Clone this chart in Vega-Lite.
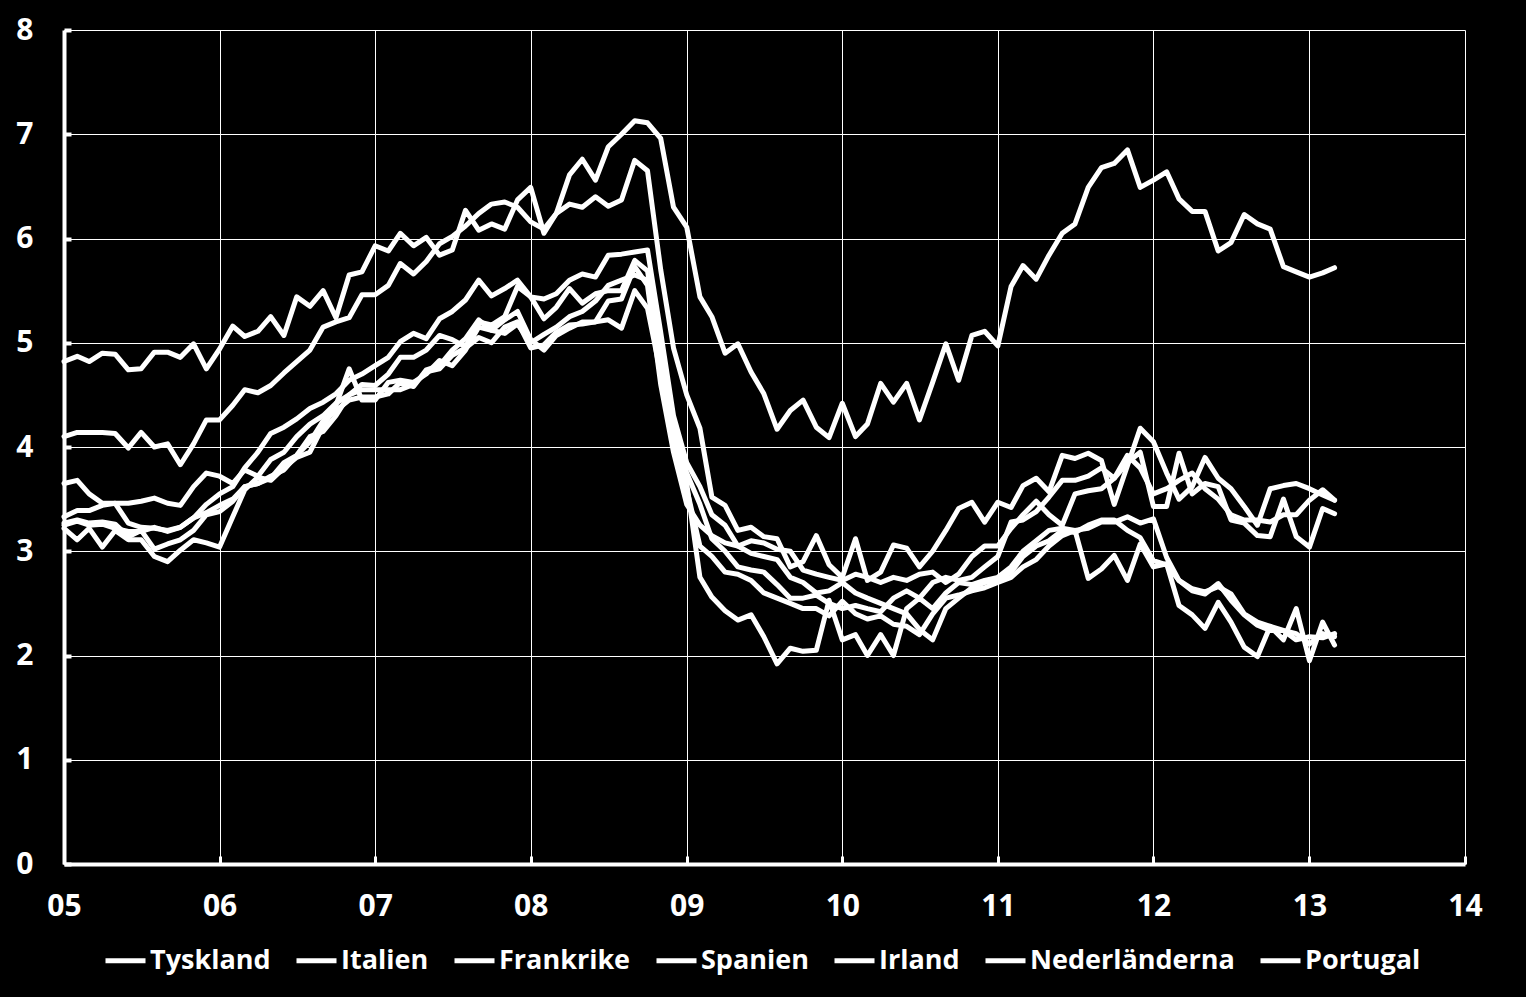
{
"$schema": "https://vega.github.io/schema/vega-lite/v6.json",
"background": "black",
"autosize": {"type": "none"},
"padding": {"left": 64, "top": 30, "right": 61, "bottom": 133},
"width": 1401,
"height": 834,
"config": {"view": {"stroke": null}, "font": "Open Sans"},
"data": {
"format": {"parse": {"d": "utc:'%Y-%m'"}},
"values": [
{"d":"2005-01","s":"Portugal","v":4.82},{"d":"2005-02","s":"Portugal","v":4.87},{"d":"2005-03","s":"Portugal","v":4.82},{"d":"2005-04","s":"Portugal","v":4.90},{"d":"2005-05","s":"Portugal","v":4.89},{"d":"2005-06","s":"Portugal","v":4.74},{"d":"2005-07","s":"Portugal","v":4.75},{"d":"2005-08","s":"Portugal","v":4.91},{"d":"2005-09","s":"Portugal","v":4.91},{"d":"2005-10","s":"Portugal","v":4.86},{"d":"2005-11","s":"Portugal","v":4.99},{"d":"2005-12","s":"Portugal","v":4.75},
{"d":"2006-01","s":"Portugal","v":4.94},{"d":"2006-02","s":"Portugal","v":5.16},{"d":"2006-03","s":"Portugal","v":5.06},{"d":"2006-04","s":"Portugal","v":5.11},{"d":"2006-05","s":"Portugal","v":5.25},{"d":"2006-06","s":"Portugal","v":5.07},{"d":"2006-07","s":"Portugal","v":5.44},{"d":"2006-08","s":"Portugal","v":5.35},{"d":"2006-09","s":"Portugal","v":5.50},{"d":"2006-10","s":"Portugal","v":5.24},{"d":"2006-11","s":"Portugal","v":5.65},{"d":"2006-12","s":"Portugal","v":5.68},
{"d":"2007-01","s":"Portugal","v":5.93},{"d":"2007-02","s":"Portugal","v":5.88},{"d":"2007-03","s":"Portugal","v":6.05},{"d":"2007-04","s":"Portugal","v":5.93},{"d":"2007-05","s":"Portugal","v":6.01},{"d":"2007-06","s":"Portugal","v":5.84},{"d":"2007-07","s":"Portugal","v":5.89},{"d":"2007-08","s":"Portugal","v":6.27},{"d":"2007-09","s":"Portugal","v":6.08},{"d":"2007-10","s":"Portugal","v":6.14},{"d":"2007-11","s":"Portugal","v":6.09},{"d":"2007-12","s":"Portugal","v":6.37},
{"d":"2008-01","s":"Portugal","v":6.49},{"d":"2008-02","s":"Portugal","v":6.05},{"d":"2008-03","s":"Portugal","v":6.24},{"d":"2008-04","s":"Portugal","v":6.61},{"d":"2008-05","s":"Portugal","v":6.76},{"d":"2008-06","s":"Portugal","v":6.56},{"d":"2008-07","s":"Portugal","v":6.88},{"d":"2008-08","s":"Portugal","v":7.00},{"d":"2008-09","s":"Portugal","v":7.13},{"d":"2008-10","s":"Portugal","v":7.11},{"d":"2008-11","s":"Portugal","v":6.96},{"d":"2008-12","s":"Portugal","v":6.30},
{"d":"2009-01","s":"Portugal","v":6.11},{"d":"2009-02","s":"Portugal","v":5.44},{"d":"2009-03","s":"Portugal","v":5.25},{"d":"2009-04","s":"Portugal","v":4.90},{"d":"2009-05","s":"Portugal","v":4.99},{"d":"2009-06","s":"Portugal","v":4.72},{"d":"2009-07","s":"Portugal","v":4.51},{"d":"2009-08","s":"Portugal","v":4.17},{"d":"2009-09","s":"Portugal","v":4.35},{"d":"2009-10","s":"Portugal","v":4.45},{"d":"2009-11","s":"Portugal","v":4.19},{"d":"2009-12","s":"Portugal","v":4.09},
{"d":"2010-01","s":"Portugal","v":4.42},{"d":"2010-02","s":"Portugal","v":4.10},{"d":"2010-03","s":"Portugal","v":4.22},{"d":"2010-04","s":"Portugal","v":4.61},{"d":"2010-05","s":"Portugal","v":4.43},{"d":"2010-06","s":"Portugal","v":4.61},{"d":"2010-07","s":"Portugal","v":4.26},{"d":"2010-08","s":"Portugal","v":4.62},{"d":"2010-09","s":"Portugal","v":4.99},{"d":"2010-10","s":"Portugal","v":4.64},{"d":"2010-11","s":"Portugal","v":5.07},{"d":"2010-12","s":"Portugal","v":5.11},
{"d":"2011-01","s":"Portugal","v":4.97},{"d":"2011-02","s":"Portugal","v":5.54},{"d":"2011-03","s":"Portugal","v":5.74},{"d":"2011-04","s":"Portugal","v":5.61},{"d":"2011-05","s":"Portugal","v":5.84},{"d":"2011-06","s":"Portugal","v":6.05},{"d":"2011-07","s":"Portugal","v":6.14},{"d":"2011-08","s":"Portugal","v":6.49},{"d":"2011-09","s":"Portugal","v":6.68},{"d":"2011-10","s":"Portugal","v":6.72},{"d":"2011-11","s":"Portugal","v":6.85},{"d":"2011-12","s":"Portugal","v":6.49},
{"d":"2012-01","s":"Portugal","v":6.56},{"d":"2012-02","s":"Portugal","v":6.64},{"d":"2012-03","s":"Portugal","v":6.38},{"d":"2012-04","s":"Portugal","v":6.26},{"d":"2012-05","s":"Portugal","v":6.26},{"d":"2012-06","s":"Portugal","v":5.88},{"d":"2012-07","s":"Portugal","v":5.96},{"d":"2012-08","s":"Portugal","v":6.23},{"d":"2012-09","s":"Portugal","v":6.14},{"d":"2012-10","s":"Portugal","v":6.09},{"d":"2012-11","s":"Portugal","v":5.73},{"d":"2012-12","s":"Portugal","v":5.68},
{"d":"2013-01","s":"Portugal","v":5.63},{"d":"2013-02","s":"Portugal","v":5.67},{"d":"2013-03","s":"Portugal","v":5.72},

{"d":"2005-01","s":"Spanien","v":4.10},{"d":"2005-02","s":"Spanien","v":4.14},{"d":"2005-03","s":"Spanien","v":4.14},{"d":"2005-04","s":"Spanien","v":4.14},{"d":"2005-05","s":"Spanien","v":4.13},{"d":"2005-06","s":"Spanien","v":3.99},{"d":"2005-07","s":"Spanien","v":4.14},{"d":"2005-08","s":"Spanien","v":4.00},{"d":"2005-09","s":"Spanien","v":4.03},{"d":"2005-10","s":"Spanien","v":3.83},{"d":"2005-11","s":"Spanien","v":4.03},{"d":"2005-12","s":"Spanien","v":4.26},
{"d":"2006-01","s":"Spanien","v":4.26},{"d":"2006-02","s":"Spanien","v":4.40},{"d":"2006-03","s":"Spanien","v":4.55},{"d":"2006-04","s":"Spanien","v":4.52},{"d":"2006-05","s":"Spanien","v":4.59},{"d":"2006-06","s":"Spanien","v":4.71},{"d":"2006-07","s":"Spanien","v":4.82},{"d":"2006-08","s":"Spanien","v":4.93},{"d":"2006-09","s":"Spanien","v":5.15},{"d":"2006-10","s":"Spanien","v":5.20},{"d":"2006-11","s":"Spanien","v":5.24},{"d":"2006-12","s":"Spanien","v":5.46},
{"d":"2007-01","s":"Spanien","v":5.46},{"d":"2007-02","s":"Spanien","v":5.55},{"d":"2007-03","s":"Spanien","v":5.76},{"d":"2007-04","s":"Spanien","v":5.66},{"d":"2007-05","s":"Spanien","v":5.78},{"d":"2007-06","s":"Spanien","v":5.95},{"d":"2007-07","s":"Spanien","v":6.02},{"d":"2007-08","s":"Spanien","v":6.12},{"d":"2007-09","s":"Spanien","v":6.24},{"d":"2007-10","s":"Spanien","v":6.33},{"d":"2007-11","s":"Spanien","v":6.35},{"d":"2007-12","s":"Spanien","v":6.30},
{"d":"2008-01","s":"Spanien","v":6.16},{"d":"2008-02","s":"Spanien","v":6.09},{"d":"2008-03","s":"Spanien","v":6.24},{"d":"2008-04","s":"Spanien","v":6.33},{"d":"2008-05","s":"Spanien","v":6.30},{"d":"2008-06","s":"Spanien","v":6.40},{"d":"2008-07","s":"Spanien","v":6.31},{"d":"2008-08","s":"Spanien","v":6.37},{"d":"2008-09","s":"Spanien","v":6.75},{"d":"2008-10","s":"Spanien","v":6.65},{"d":"2008-11","s":"Spanien","v":5.70},{"d":"2008-12","s":"Spanien","v":4.95},
{"d":"2009-01","s":"Spanien","v":4.50},{"d":"2009-02","s":"Spanien","v":4.18},{"d":"2009-03","s":"Spanien","v":3.52},{"d":"2009-04","s":"Spanien","v":3.44},{"d":"2009-05","s":"Spanien","v":3.20},{"d":"2009-06","s":"Spanien","v":3.23},{"d":"2009-07","s":"Spanien","v":3.14},{"d":"2009-08","s":"Spanien","v":3.12},{"d":"2009-09","s":"Spanien","v":2.85},{"d":"2009-10","s":"Spanien","v":2.90},{"d":"2009-11","s":"Spanien","v":3.15},{"d":"2009-12","s":"Spanien","v":2.87},
{"d":"2010-01","s":"Spanien","v":2.75},{"d":"2010-02","s":"Spanien","v":3.12},{"d":"2010-03","s":"Spanien","v":2.72},{"d":"2010-04","s":"Spanien","v":2.80},{"d":"2010-05","s":"Spanien","v":3.06},{"d":"2010-06","s":"Spanien","v":3.03},{"d":"2010-07","s":"Spanien","v":2.85},{"d":"2010-08","s":"Spanien","v":3.00},{"d":"2010-09","s":"Spanien","v":3.20},{"d":"2010-10","s":"Spanien","v":3.41},{"d":"2010-11","s":"Spanien","v":3.47},{"d":"2010-12","s":"Spanien","v":3.28},
{"d":"2011-01","s":"Spanien","v":3.47},{"d":"2011-02","s":"Spanien","v":3.42},{"d":"2011-03","s":"Spanien","v":3.63},{"d":"2011-04","s":"Spanien","v":3.70},{"d":"2011-05","s":"Spanien","v":3.57},{"d":"2011-06","s":"Spanien","v":3.92},{"d":"2011-07","s":"Spanien","v":3.89},{"d":"2011-08","s":"Spanien","v":3.94},{"d":"2011-09","s":"Spanien","v":3.87},{"d":"2011-10","s":"Spanien","v":3.45},{"d":"2011-11","s":"Spanien","v":3.82},{"d":"2011-12","s":"Spanien","v":4.18},
{"d":"2012-01","s":"Spanien","v":4.05},{"d":"2012-02","s":"Spanien","v":3.75},{"d":"2012-03","s":"Spanien","v":3.50},{"d":"2012-04","s":"Spanien","v":3.62},{"d":"2012-05","s":"Spanien","v":3.90},{"d":"2012-06","s":"Spanien","v":3.70},{"d":"2012-07","s":"Spanien","v":3.60},{"d":"2012-08","s":"Spanien","v":3.43},{"d":"2012-09","s":"Spanien","v":3.25},{"d":"2012-10","s":"Spanien","v":3.60},{"d":"2012-11","s":"Spanien","v":3.63},{"d":"2012-12","s":"Spanien","v":3.65},
{"d":"2013-01","s":"Spanien","v":3.60},{"d":"2013-02","s":"Spanien","v":3.54},{"d":"2013-03","s":"Spanien","v":3.49},

{"d":"2005-01","s":"Italien","v":3.65},{"d":"2005-02","s":"Italien","v":3.68},{"d":"2005-03","s":"Italien","v":3.55},{"d":"2005-04","s":"Italien","v":3.46},{"d":"2005-05","s":"Italien","v":3.46},{"d":"2005-06","s":"Italien","v":3.27},{"d":"2005-07","s":"Italien","v":3.23},{"d":"2005-08","s":"Italien","v":3.22},{"d":"2005-09","s":"Italien","v":3.20},{"d":"2005-10","s":"Italien","v":3.23},{"d":"2005-11","s":"Italien","v":3.32},{"d":"2005-12","s":"Italien","v":3.45},
{"d":"2006-01","s":"Italien","v":3.55},{"d":"2006-02","s":"Italien","v":3.62},{"d":"2006-03","s":"Italien","v":3.80},{"d":"2006-04","s":"Italien","v":3.95},{"d":"2006-05","s":"Italien","v":4.13},{"d":"2006-06","s":"Italien","v":4.19},{"d":"2006-07","s":"Italien","v":4.27},{"d":"2006-08","s":"Italien","v":4.37},{"d":"2006-09","s":"Italien","v":4.43},{"d":"2006-10","s":"Italien","v":4.51},{"d":"2006-11","s":"Italien","v":4.64},{"d":"2006-12","s":"Italien","v":4.70},
{"d":"2007-01","s":"Italien","v":4.78},{"d":"2007-02","s":"Italien","v":4.86},{"d":"2007-03","s":"Italien","v":5.01},{"d":"2007-04","s":"Italien","v":5.09},{"d":"2007-05","s":"Italien","v":5.04},{"d":"2007-06","s":"Italien","v":5.23},{"d":"2007-07","s":"Italien","v":5.30},{"d":"2007-08","s":"Italien","v":5.41},{"d":"2007-09","s":"Italien","v":5.60},{"d":"2007-10","s":"Italien","v":5.45},{"d":"2007-11","s":"Italien","v":5.52},{"d":"2007-12","s":"Italien","v":5.60},
{"d":"2008-01","s":"Italien","v":5.44},{"d":"2008-02","s":"Italien","v":5.42},{"d":"2008-03","s":"Italien","v":5.47},{"d":"2008-04","s":"Italien","v":5.60},{"d":"2008-05","s":"Italien","v":5.66},{"d":"2008-06","s":"Italien","v":5.63},{"d":"2008-07","s":"Italien","v":5.84},{"d":"2008-08","s":"Italien","v":5.85},{"d":"2008-09","s":"Italien","v":5.87},{"d":"2008-10","s":"Italien","v":5.89},{"d":"2008-11","s":"Italien","v":5.10},{"d":"2008-12","s":"Italien","v":4.30},
{"d":"2009-01","s":"Italien","v":3.85},{"d":"2009-02","s":"Italien","v":3.62},{"d":"2009-03","s":"Italien","v":3.35},{"d":"2009-04","s":"Italien","v":3.25},{"d":"2009-05","s":"Italien","v":3.05},{"d":"2009-06","s":"Italien","v":3.10},{"d":"2009-07","s":"Italien","v":3.08},{"d":"2009-08","s":"Italien","v":3.02},{"d":"2009-09","s":"Italien","v":3.00},{"d":"2009-10","s":"Italien","v":2.82},{"d":"2009-11","s":"Italien","v":2.78},{"d":"2009-12","s":"Italien","v":2.75},
{"d":"2010-01","s":"Italien","v":2.72},{"d":"2010-02","s":"Italien","v":2.78},{"d":"2010-03","s":"Italien","v":2.75},{"d":"2010-04","s":"Italien","v":2.70},{"d":"2010-05","s":"Italien","v":2.75},{"d":"2010-06","s":"Italien","v":2.72},{"d":"2010-07","s":"Italien","v":2.78},{"d":"2010-08","s":"Italien","v":2.80},{"d":"2010-09","s":"Italien","v":2.70},{"d":"2010-10","s":"Italien","v":2.78},{"d":"2010-11","s":"Italien","v":2.95},{"d":"2010-12","s":"Italien","v":3.05},
{"d":"2011-01","s":"Italien","v":3.05},{"d":"2011-02","s":"Italien","v":3.22},{"d":"2011-03","s":"Italien","v":3.35},{"d":"2011-04","s":"Italien","v":3.48},{"d":"2011-05","s":"Italien","v":3.35},{"d":"2011-06","s":"Italien","v":3.25},{"d":"2011-07","s":"Italien","v":3.55},{"d":"2011-08","s":"Italien","v":3.58},{"d":"2011-09","s":"Italien","v":3.60},{"d":"2011-10","s":"Italien","v":3.70},{"d":"2011-11","s":"Italien","v":3.85},{"d":"2011-12","s":"Italien","v":3.95},
{"d":"2012-01","s":"Italien","v":3.43},{"d":"2012-02","s":"Italien","v":3.43},{"d":"2012-03","s":"Italien","v":3.94},{"d":"2012-04","s":"Italien","v":3.55},{"d":"2012-05","s":"Italien","v":3.65},{"d":"2012-06","s":"Italien","v":3.62},{"d":"2012-07","s":"Italien","v":3.30},{"d":"2012-08","s":"Italien","v":3.27},{"d":"2012-09","s":"Italien","v":3.15},{"d":"2012-10","s":"Italien","v":3.14},{"d":"2012-11","s":"Italien","v":3.50},{"d":"2012-12","s":"Italien","v":3.14},
{"d":"2013-01","s":"Italien","v":3.04},{"d":"2013-02","s":"Italien","v":3.41},{"d":"2013-03","s":"Italien","v":3.36},

{"d":"2005-01","s":"Irland","v":3.33},{"d":"2005-02","s":"Irland","v":3.39},{"d":"2005-03","s":"Irland","v":3.39},{"d":"2005-04","s":"Irland","v":3.44},{"d":"2005-05","s":"Irland","v":3.46},{"d":"2005-06","s":"Irland","v":3.46},{"d":"2005-07","s":"Irland","v":3.48},{"d":"2005-08","s":"Irland","v":3.51},{"d":"2005-09","s":"Irland","v":3.46},{"d":"2005-10","s":"Irland","v":3.44},{"d":"2005-11","s":"Irland","v":3.62},{"d":"2005-12","s":"Irland","v":3.75},
{"d":"2006-01","s":"Irland","v":3.72},{"d":"2006-02","s":"Irland","v":3.65},{"d":"2006-03","s":"Irland","v":3.78},{"d":"2006-04","s":"Irland","v":3.72},{"d":"2006-05","s":"Irland","v":3.88},{"d":"2006-06","s":"Irland","v":3.95},{"d":"2006-07","s":"Irland","v":4.10},{"d":"2006-08","s":"Irland","v":4.22},{"d":"2006-09","s":"Irland","v":4.30},{"d":"2006-10","s":"Irland","v":4.42},{"d":"2006-11","s":"Irland","v":4.50},{"d":"2006-12","s":"Irland","v":4.60},
{"d":"2007-01","s":"Irland","v":4.59},{"d":"2007-02","s":"Irland","v":4.70},{"d":"2007-03","s":"Irland","v":4.86},{"d":"2007-04","s":"Irland","v":4.86},{"d":"2007-05","s":"Irland","v":4.93},{"d":"2007-06","s":"Irland","v":5.07},{"d":"2007-07","s":"Irland","v":5.03},{"d":"2007-08","s":"Irland","v":4.96},{"d":"2007-09","s":"Irland","v":5.20},{"d":"2007-10","s":"Irland","v":5.17},{"d":"2007-11","s":"Irland","v":5.25},{"d":"2007-12","s":"Irland","v":5.54},
{"d":"2008-01","s":"Irland","v":5.44},{"d":"2008-02","s":"Irland","v":5.23},{"d":"2008-03","s":"Irland","v":5.34},{"d":"2008-04","s":"Irland","v":5.52},{"d":"2008-05","s":"Irland","v":5.38},{"d":"2008-06","s":"Irland","v":5.47},{"d":"2008-07","s":"Irland","v":5.50},{"d":"2008-08","s":"Irland","v":5.50},{"d":"2008-09","s":"Irland","v":5.79},{"d":"2008-10","s":"Irland","v":5.69},{"d":"2008-11","s":"Irland","v":4.90},{"d":"2008-12","s":"Irland","v":4.15},
{"d":"2009-01","s":"Irland","v":3.75},{"d":"2009-02","s":"Irland","v":3.45},{"d":"2009-03","s":"Irland","v":3.12},{"d":"2009-04","s":"Irland","v":3.00},{"d":"2009-05","s":"Irland","v":2.85},{"d":"2009-06","s":"Irland","v":2.82},{"d":"2009-07","s":"Irland","v":2.80},{"d":"2009-08","s":"Irland","v":2.68},{"d":"2009-09","s":"Irland","v":2.55},{"d":"2009-10","s":"Irland","v":2.55},{"d":"2009-11","s":"Irland","v":2.58},{"d":"2009-12","s":"Irland","v":2.50},
{"d":"2010-01","s":"Irland","v":2.45},{"d":"2010-02","s":"Irland","v":2.48},{"d":"2010-03","s":"Irland","v":2.45},{"d":"2010-04","s":"Irland","v":2.42},{"d":"2010-05","s":"Irland","v":2.55},{"d":"2010-06","s":"Irland","v":2.62},{"d":"2010-07","s":"Irland","v":2.55},{"d":"2010-08","s":"Irland","v":2.70},{"d":"2010-09","s":"Irland","v":2.75},{"d":"2010-10","s":"Irland","v":2.72},{"d":"2010-11","s":"Irland","v":2.75},{"d":"2010-12","s":"Irland","v":2.85},
{"d":"2011-01","s":"Irland","v":2.95},{"d":"2011-02","s":"Irland","v":3.28},{"d":"2011-03","s":"Irland","v":3.30},{"d":"2011-04","s":"Irland","v":3.38},{"d":"2011-05","s":"Irland","v":3.52},{"d":"2011-06","s":"Irland","v":3.68},{"d":"2011-07","s":"Irland","v":3.68},{"d":"2011-08","s":"Irland","v":3.72},{"d":"2011-09","s":"Irland","v":3.80},{"d":"2011-10","s":"Irland","v":3.70},{"d":"2011-11","s":"Irland","v":3.92},{"d":"2011-12","s":"Irland","v":3.80},
{"d":"2012-01","s":"Irland","v":3.55},{"d":"2012-02","s":"Irland","v":3.60},{"d":"2012-03","s":"Irland","v":3.68},{"d":"2012-04","s":"Irland","v":3.75},{"d":"2012-05","s":"Irland","v":3.60},{"d":"2012-06","s":"Irland","v":3.50},{"d":"2012-07","s":"Irland","v":3.35},{"d":"2012-08","s":"Irland","v":3.30},{"d":"2012-09","s":"Irland","v":3.30},{"d":"2012-10","s":"Irland","v":3.28},{"d":"2012-11","s":"Irland","v":3.35},{"d":"2012-12","s":"Irland","v":3.35},
{"d":"2013-01","s":"Irland","v":3.49},{"d":"2013-02","s":"Irland","v":3.59},{"d":"2013-03","s":"Irland","v":3.49},

{"d":"2005-01","s":"Tyskland","v":3.22},{"d":"2005-02","s":"Tyskland","v":3.11},{"d":"2005-03","s":"Tyskland","v":3.22},{"d":"2005-04","s":"Tyskland","v":3.04},{"d":"2005-05","s":"Tyskland","v":3.20},{"d":"2005-06","s":"Tyskland","v":3.11},{"d":"2005-07","s":"Tyskland","v":3.11},{"d":"2005-08","s":"Tyskland","v":2.95},{"d":"2005-09","s":"Tyskland","v":2.90},{"d":"2005-10","s":"Tyskland","v":3.01},{"d":"2005-11","s":"Tyskland","v":3.11},{"d":"2005-12","s":"Tyskland","v":3.08},
{"d":"2006-01","s":"Tyskland","v":3.04},{"d":"2006-02","s":"Tyskland","v":3.33},{"d":"2006-03","s":"Tyskland","v":3.59},{"d":"2006-04","s":"Tyskland","v":3.71},{"d":"2006-05","s":"Tyskland","v":3.68},{"d":"2006-06","s":"Tyskland","v":3.80},{"d":"2006-07","s":"Tyskland","v":3.90},{"d":"2006-08","s":"Tyskland","v":3.95},{"d":"2006-09","s":"Tyskland","v":4.20},{"d":"2006-10","s":"Tyskland","v":4.40},{"d":"2006-11","s":"Tyskland","v":4.75},{"d":"2006-12","s":"Tyskland","v":4.45},
{"d":"2007-01","s":"Tyskland","v":4.45},{"d":"2007-02","s":"Tyskland","v":4.62},{"d":"2007-03","s":"Tyskland","v":4.64},{"d":"2007-04","s":"Tyskland","v":4.62},{"d":"2007-05","s":"Tyskland","v":4.70},{"d":"2007-06","s":"Tyskland","v":4.83},{"d":"2007-07","s":"Tyskland","v":4.78},{"d":"2007-08","s":"Tyskland","v":4.93},{"d":"2007-09","s":"Tyskland","v":5.15},{"d":"2007-10","s":"Tyskland","v":5.12},{"d":"2007-11","s":"Tyskland","v":5.22},{"d":"2007-12","s":"Tyskland","v":5.30},
{"d":"2008-01","s":"Tyskland","v":5.03},{"d":"2008-02","s":"Tyskland","v":4.93},{"d":"2008-03","s":"Tyskland","v":5.07},{"d":"2008-04","s":"Tyskland","v":5.14},{"d":"2008-05","s":"Tyskland","v":5.20},{"d":"2008-06","s":"Tyskland","v":5.20},{"d":"2008-07","s":"Tyskland","v":5.22},{"d":"2008-08","s":"Tyskland","v":5.14},{"d":"2008-09","s":"Tyskland","v":5.50},{"d":"2008-10","s":"Tyskland","v":5.33},{"d":"2008-11","s":"Tyskland","v":4.70},{"d":"2008-12","s":"Tyskland","v":4.10},
{"d":"2009-01","s":"Tyskland","v":3.65},{"d":"2009-02","s":"Tyskland","v":2.75},{"d":"2009-03","s":"Tyskland","v":2.56},{"d":"2009-04","s":"Tyskland","v":2.43},{"d":"2009-05","s":"Tyskland","v":2.34},{"d":"2009-06","s":"Tyskland","v":2.39},{"d":"2009-07","s":"Tyskland","v":2.18},{"d":"2009-08","s":"Tyskland","v":1.92},{"d":"2009-09","s":"Tyskland","v":2.07},{"d":"2009-10","s":"Tyskland","v":2.04},{"d":"2009-11","s":"Tyskland","v":2.05},{"d":"2009-12","s":"Tyskland","v":2.53},
{"d":"2010-01","s":"Tyskland","v":2.15},{"d":"2010-02","s":"Tyskland","v":2.20},{"d":"2010-03","s":"Tyskland","v":2.00},{"d":"2010-04","s":"Tyskland","v":2.20},{"d":"2010-05","s":"Tyskland","v":2.00},{"d":"2010-06","s":"Tyskland","v":2.45},{"d":"2010-07","s":"Tyskland","v":2.55},{"d":"2010-08","s":"Tyskland","v":2.45},{"d":"2010-09","s":"Tyskland","v":2.60},{"d":"2010-10","s":"Tyskland","v":2.70},{"d":"2010-11","s":"Tyskland","v":2.68},{"d":"2010-12","s":"Tyskland","v":2.72},
{"d":"2011-01","s":"Tyskland","v":2.75},{"d":"2011-02","s":"Tyskland","v":2.85},{"d":"2011-03","s":"Tyskland","v":3.00},{"d":"2011-04","s":"Tyskland","v":3.10},{"d":"2011-05","s":"Tyskland","v":3.20},{"d":"2011-06","s":"Tyskland","v":3.22},{"d":"2011-07","s":"Tyskland","v":3.20},{"d":"2011-08","s":"Tyskland","v":2.74},{"d":"2011-09","s":"Tyskland","v":2.83},{"d":"2011-10","s":"Tyskland","v":2.96},{"d":"2011-11","s":"Tyskland","v":2.72},{"d":"2011-12","s":"Tyskland","v":3.07},
{"d":"2012-01","s":"Tyskland","v":2.85},{"d":"2012-02","s":"Tyskland","v":2.88},{"d":"2012-03","s":"Tyskland","v":2.48},{"d":"2012-04","s":"Tyskland","v":2.39},{"d":"2012-05","s":"Tyskland","v":2.26},{"d":"2012-06","s":"Tyskland","v":2.51},{"d":"2012-07","s":"Tyskland","v":2.32},{"d":"2012-08","s":"Tyskland","v":2.08},{"d":"2012-09","s":"Tyskland","v":1.99},{"d":"2012-10","s":"Tyskland","v":2.28},{"d":"2012-11","s":"Tyskland","v":2.15},{"d":"2012-12","s":"Tyskland","v":2.45},
{"d":"2013-01","s":"Tyskland","v":1.95},{"d":"2013-02","s":"Tyskland","v":2.32},{"d":"2013-03","s":"Tyskland","v":2.10},

{"d":"2005-01","s":"Frankrike","v":3.27},{"d":"2005-02","s":"Frankrike","v":3.30},{"d":"2005-03","s":"Frankrike","v":3.27},{"d":"2005-04","s":"Frankrike","v":3.28},{"d":"2005-05","s":"Frankrike","v":3.26},{"d":"2005-06","s":"Frankrike","v":3.14},{"d":"2005-07","s":"Frankrike","v":3.20},{"d":"2005-08","s":"Frankrike","v":3.02},{"d":"2005-09","s":"Frankrike","v":3.07},{"d":"2005-10","s":"Frankrike","v":3.11},{"d":"2005-11","s":"Frankrike","v":3.20},{"d":"2005-12","s":"Frankrike","v":3.35},
{"d":"2006-01","s":"Frankrike","v":3.38},{"d":"2006-02","s":"Frankrike","v":3.48},{"d":"2006-03","s":"Frankrike","v":3.62},{"d":"2006-04","s":"Frankrike","v":3.65},{"d":"2006-05","s":"Frankrike","v":3.72},{"d":"2006-06","s":"Frankrike","v":3.78},{"d":"2006-07","s":"Frankrike","v":3.92},{"d":"2006-08","s":"Frankrike","v":4.05},{"d":"2006-09","s":"Frankrike","v":4.25},{"d":"2006-10","s":"Frankrike","v":4.35},{"d":"2006-11","s":"Frankrike","v":4.45},{"d":"2006-12","s":"Frankrike","v":4.48},
{"d":"2007-01","s":"Frankrike","v":4.48},{"d":"2007-02","s":"Frankrike","v":4.51},{"d":"2007-03","s":"Frankrike","v":4.62},{"d":"2007-04","s":"Frankrike","v":4.58},{"d":"2007-05","s":"Frankrike","v":4.74},{"d":"2007-06","s":"Frankrike","v":4.78},{"d":"2007-07","s":"Frankrike","v":4.93},{"d":"2007-08","s":"Frankrike","v":5.04},{"d":"2007-09","s":"Frankrike","v":5.22},{"d":"2007-10","s":"Frankrike","v":5.12},{"d":"2007-11","s":"Frankrike","v":5.09},{"d":"2007-12","s":"Frankrike","v":5.18},
{"d":"2008-01","s":"Frankrike","v":5.00},{"d":"2008-02","s":"Frankrike","v":5.08},{"d":"2008-03","s":"Frankrike","v":5.15},{"d":"2008-04","s":"Frankrike","v":5.25},{"d":"2008-05","s":"Frankrike","v":5.30},{"d":"2008-06","s":"Frankrike","v":5.40},{"d":"2008-07","s":"Frankrike","v":5.55},{"d":"2008-08","s":"Frankrike","v":5.60},{"d":"2008-09","s":"Frankrike","v":5.65},{"d":"2008-10","s":"Frankrike","v":5.60},{"d":"2008-11","s":"Frankrike","v":4.85},{"d":"2008-12","s":"Frankrike","v":4.00},
{"d":"2009-01","s":"Frankrike","v":3.60},{"d":"2009-02","s":"Frankrike","v":3.05},{"d":"2009-03","s":"Frankrike","v":2.95},{"d":"2009-04","s":"Frankrike","v":2.80},{"d":"2009-05","s":"Frankrike","v":2.78},{"d":"2009-06","s":"Frankrike","v":2.72},{"d":"2009-07","s":"Frankrike","v":2.60},{"d":"2009-08","s":"Frankrike","v":2.55},{"d":"2009-09","s":"Frankrike","v":2.50},{"d":"2009-10","s":"Frankrike","v":2.45},{"d":"2009-11","s":"Frankrike","v":2.45},{"d":"2009-12","s":"Frankrike","v":2.38},
{"d":"2010-01","s":"Frankrike","v":2.52},{"d":"2010-02","s":"Frankrike","v":2.40},{"d":"2010-03","s":"Frankrike","v":2.35},{"d":"2010-04","s":"Frankrike","v":2.38},{"d":"2010-05","s":"Frankrike","v":2.30},{"d":"2010-06","s":"Frankrike","v":2.28},{"d":"2010-07","s":"Frankrike","v":2.20},{"d":"2010-08","s":"Frankrike","v":2.40},{"d":"2010-09","s":"Frankrike","v":2.55},{"d":"2010-10","s":"Frankrike","v":2.58},{"d":"2010-11","s":"Frankrike","v":2.62},{"d":"2010-12","s":"Frankrike","v":2.65},
{"d":"2011-01","s":"Frankrike","v":2.70},{"d":"2011-02","s":"Frankrike","v":2.75},{"d":"2011-03","s":"Frankrike","v":2.85},{"d":"2011-04","s":"Frankrike","v":2.92},{"d":"2011-05","s":"Frankrike","v":3.05},{"d":"2011-06","s":"Frankrike","v":3.15},{"d":"2011-07","s":"Frankrike","v":3.20},{"d":"2011-08","s":"Frankrike","v":3.22},{"d":"2011-09","s":"Frankrike","v":3.28},{"d":"2011-10","s":"Frankrike","v":3.28},{"d":"2011-11","s":"Frankrike","v":3.33},{"d":"2011-12","s":"Frankrike","v":3.27},
{"d":"2012-01","s":"Frankrike","v":3.31},{"d":"2012-02","s":"Frankrike","v":2.94},{"d":"2012-03","s":"Frankrike","v":2.72},{"d":"2012-04","s":"Frankrike","v":2.62},{"d":"2012-05","s":"Frankrike","v":2.59},{"d":"2012-06","s":"Frankrike","v":2.69},{"d":"2012-07","s":"Frankrike","v":2.53},{"d":"2012-08","s":"Frankrike","v":2.39},{"d":"2012-09","s":"Frankrike","v":2.29},{"d":"2012-10","s":"Frankrike","v":2.24},{"d":"2012-11","s":"Frankrike","v":2.24},{"d":"2012-12","s":"Frankrike","v":2.15},
{"d":"2013-01","s":"Frankrike","v":2.18},{"d":"2013-02","s":"Frankrike","v":2.17},{"d":"2013-03","s":"Frankrike","v":2.21},

{"d":"2005-01","s":"Nederländerna","v":3.25},{"d":"2005-02","s":"Nederländerna","v":3.29},{"d":"2005-03","s":"Nederländerna","v":3.25},{"d":"2005-04","s":"Nederländerna","v":3.26},{"d":"2005-05","s":"Nederländerna","v":3.22},{"d":"2005-06","s":"Nederländerna","v":3.19},{"d":"2005-07","s":"Nederländerna","v":3.19},{"d":"2005-08","s":"Nederländerna","v":3.23},{"d":"2005-09","s":"Nederländerna","v":3.19},{"d":"2005-10","s":"Nederländerna","v":3.23},{"d":"2005-11","s":"Nederländerna","v":3.32},{"d":"2005-12","s":"Nederländerna","v":3.37},
{"d":"2006-01","s":"Nederländerna","v":3.44},{"d":"2006-02","s":"Nederländerna","v":3.50},{"d":"2006-03","s":"Nederländerna","v":3.62},{"d":"2006-04","s":"Nederländerna","v":3.65},{"d":"2006-05","s":"Nederländerna","v":3.70},{"d":"2006-06","s":"Nederländerna","v":3.85},{"d":"2006-07","s":"Nederländerna","v":3.92},{"d":"2006-08","s":"Nederländerna","v":4.10},{"d":"2006-09","s":"Nederländerna","v":4.15},{"d":"2006-10","s":"Nederländerna","v":4.30},{"d":"2006-11","s":"Nederländerna","v":4.50},{"d":"2006-12","s":"Nederländerna","v":4.55},
{"d":"2007-01","s":"Nederländerna","v":4.55},{"d":"2007-02","s":"Nederländerna","v":4.55},{"d":"2007-03","s":"Nederländerna","v":4.55},{"d":"2007-04","s":"Nederländerna","v":4.60},{"d":"2007-05","s":"Nederländerna","v":4.72},{"d":"2007-06","s":"Nederländerna","v":4.75},{"d":"2007-07","s":"Nederländerna","v":4.88},{"d":"2007-08","s":"Nederländerna","v":4.95},{"d":"2007-09","s":"Nederländerna","v":5.05},{"d":"2007-10","s":"Nederländerna","v":5.00},{"d":"2007-11","s":"Nederländerna","v":5.15},{"d":"2007-12","s":"Nederländerna","v":5.20},
{"d":"2008-01","s":"Nederländerna","v":4.95},{"d":"2008-02","s":"Nederländerna","v":4.98},{"d":"2008-03","s":"Nederländerna","v":5.10},{"d":"2008-04","s":"Nederländerna","v":5.17},{"d":"2008-05","s":"Nederländerna","v":5.18},{"d":"2008-06","s":"Nederländerna","v":5.20},{"d":"2008-07","s":"Nederländerna","v":5.40},{"d":"2008-08","s":"Nederländerna","v":5.42},{"d":"2008-09","s":"Nederländerna","v":5.73},{"d":"2008-10","s":"Nederländerna","v":5.55},{"d":"2008-11","s":"Nederländerna","v":4.60},{"d":"2008-12","s":"Nederländerna","v":3.95},
{"d":"2009-01","s":"Nederländerna","v":3.45},{"d":"2009-02","s":"Nederländerna","v":3.25},{"d":"2009-03","s":"Nederländerna","v":3.15},{"d":"2009-04","s":"Nederländerna","v":3.08},{"d":"2009-05","s":"Nederländerna","v":3.05},{"d":"2009-06","s":"Nederländerna","v":2.98},{"d":"2009-07","s":"Nederländerna","v":2.95},{"d":"2009-08","s":"Nederländerna","v":2.92},{"d":"2009-09","s":"Nederländerna","v":2.75},{"d":"2009-10","s":"Nederländerna","v":2.70},{"d":"2009-11","s":"Nederländerna","v":2.60},{"d":"2009-12","s":"Nederländerna","v":2.62},
{"d":"2010-01","s":"Nederländerna","v":2.70},{"d":"2010-02","s":"Nederländerna","v":2.60},{"d":"2010-03","s":"Nederländerna","v":2.55},{"d":"2010-04","s":"Nederländerna","v":2.50},{"d":"2010-05","s":"Nederländerna","v":2.45},{"d":"2010-06","s":"Nederländerna","v":2.40},{"d":"2010-07","s":"Nederländerna","v":2.25},{"d":"2010-08","s":"Nederländerna","v":2.15},{"d":"2010-09","s":"Nederländerna","v":2.45},{"d":"2010-10","s":"Nederländerna","v":2.55},{"d":"2010-11","s":"Nederländerna","v":2.65},{"d":"2010-12","s":"Nederländerna","v":2.70},
{"d":"2011-01","s":"Nederländerna","v":2.72},{"d":"2011-02","s":"Nederländerna","v":2.80},{"d":"2011-03","s":"Nederländerna","v":2.95},{"d":"2011-04","s":"Nederländerna","v":3.05},{"d":"2011-05","s":"Nederländerna","v":3.10},{"d":"2011-06","s":"Nederländerna","v":3.20},{"d":"2011-07","s":"Nederländerna","v":3.18},{"d":"2011-08","s":"Nederländerna","v":3.25},{"d":"2011-09","s":"Nederländerna","v":3.30},{"d":"2011-10","s":"Nederländerna","v":3.30},{"d":"2011-11","s":"Nederländerna","v":3.20},{"d":"2011-12","s":"Nederländerna","v":3.13},
{"d":"2012-01","s":"Nederländerna","v":2.91},{"d":"2012-02","s":"Nederländerna","v":2.87},{"d":"2012-03","s":"Nederländerna","v":2.72},{"d":"2012-04","s":"Nederländerna","v":2.64},{"d":"2012-05","s":"Nederländerna","v":2.61},{"d":"2012-06","s":"Nederländerna","v":2.66},{"d":"2012-07","s":"Nederländerna","v":2.59},{"d":"2012-08","s":"Nederländerna","v":2.40},{"d":"2012-09","s":"Nederländerna","v":2.32},{"d":"2012-10","s":"Nederländerna","v":2.28},{"d":"2012-11","s":"Nederländerna","v":2.24},{"d":"2012-12","s":"Nederländerna","v":2.21},
{"d":"2013-01","s":"Nederländerna","v":2.11},{"d":"2013-02","s":"Nederländerna","v":2.21},{"d":"2013-03","s":"Nederländerna","v":2.18}
]
},
"mark": {"type": "line", "strokeWidth": 5, "strokeJoin": "round", "strokeCap": "round"},
"encoding": {
"x": {"field": "d", "type": "temporal",
"scale": {"type": "utc", "domain": [{"year": 2005, "month": 1, "date": 1, "utc": true}, {"year": 2014, "month": 1, "date": 1, "utc": true}]},
"axis": {"title": null, "values": [{"year": 2005, "utc": true}, {"year": 2006, "utc": true}, {"year": 2007, "utc": true}, {"year": 2008, "utc": true}, {"year": 2009, "utc": true}, {"year": 2010, "utc": true}, {"year": 2011, "utc": true}, {"year": 2012, "utc": true}, {"year": 2013, "utc": true}, {"year": 2014, "utc": true}],
"format": "%y", "labelFontSize": 30, "labelFontWeight": "bold", "labelColor": "white", "labelFont": "Open Sans", "labelPadding": 35, "labelFlush": false, "labelOverlap": false,
"domainColor": "white", "domainWidth": 4, "ticks": true, "tickColor": "white", "tickWidth": 3, "tickSize": -8,
"grid": true, "gridColor": "white", "gridWidth": 1, "gridOpacity": 1}},
"y": {"field": "v", "type": "quantitative",
"scale": {"domain": [0, 8], "nice": false},
"axis": {"title": null, "values": [0, 1, 2, 3, 4, 5, 6, 7, 8], "labelFontSize": 30, "labelFontWeight": "bold", "labelColor": "white", "labelFont": "Open Sans", "labelPadding": 38, "labelFlush": false, "labelOverlap": false,
"domainColor": "white", "domainWidth": 4, "ticks": true, "tickColor": "white", "tickWidth": 4, "tickSize": -7,
"grid": true, "gridColor": "white", "gridWidth": 1, "gridOpacity": 1}},
"color": {"field": "s", "type": "nominal",
"scale": {"domain": ["Tyskland", "Italien", "Frankrike", "Spanien", "Irland", "Nederländerna", "Portugal"], "range": ["#ffffff", "#ffffff", "#ffffff", "#ffffff", "#ffffff", "#ffffff", "#ffffff"]},
"legend": {"title": null, "orient": "none", "legendX": 39, "legendY": 908, "direction": "horizontal", "columns": 7, "symbolType": "stroke", "symbolSize": 1600, "symbolStrokeWidth": 5, "labelFontSize": 27, "labelFontWeight": "bold", "labelColor": "white", "labelFont": "Open Sans", "labelOffset": 2, "columnPadding": 15, "labelLimit": 400}}
}
}
